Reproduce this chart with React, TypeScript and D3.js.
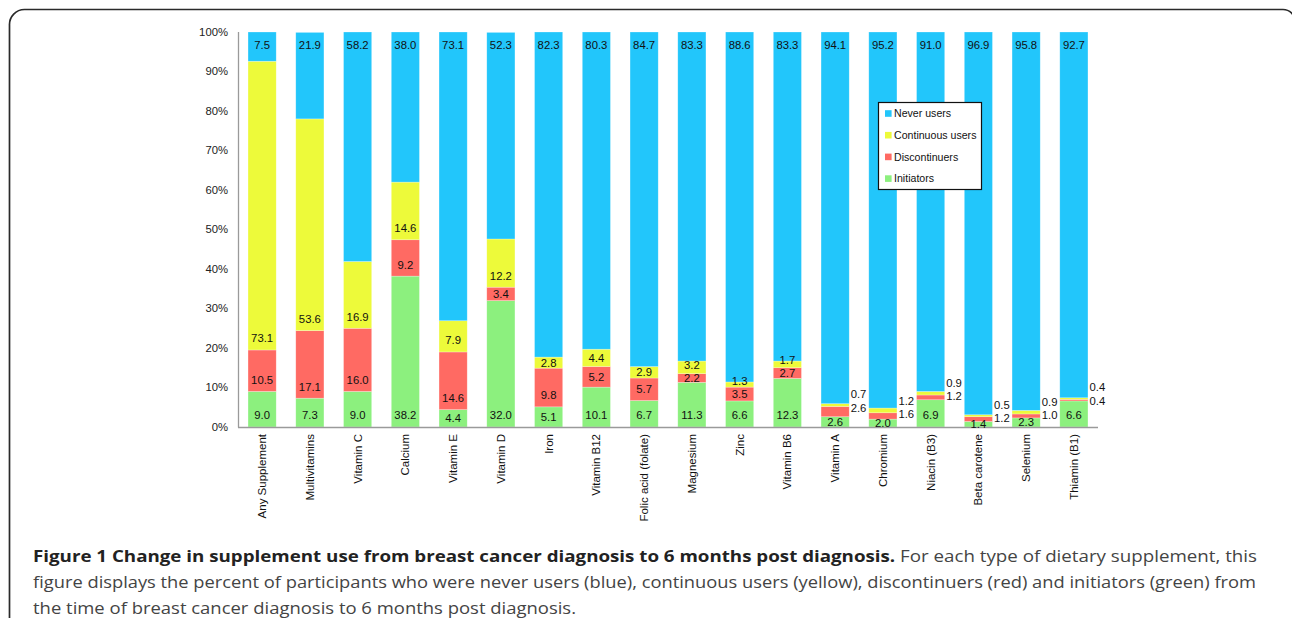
import React from "react";
import * as d3 from "d3";

const categories = [
  "Any Supplement", "Multivitamins", "Vitamin C", "Calcium", "Vitamin E", "Vitamin D",
  "Iron", "Vitamin B12", "Folic acid (folate)", "Magnesium", "Zinc", "Vitamin B6",
  "Vitamin A", "Chromium", "Niacin (B3)", "Beta carotene", "Selenium", "Thiamin (B1)",
];
const initiators = [9.0, 7.3, 9.0, 38.2, 4.4, 32.0, 5.1, 10.1, 6.7, 11.3, 6.6, 12.3, 2.6, 2.0, 6.9, 1.4, 2.3, 6.6];
const discontinuers = [10.5, 17.1, 16.0, 9.2, 14.6, 3.4, 9.8, 5.2, 5.7, 2.2, 3.5, 2.7, 2.6, 1.6, 1.2, 1.2, 1.0, 0.4];
const continuous = [73.1, 53.6, 16.9, 14.6, 7.9, 12.2, 2.8, 4.4, 2.9, 3.2, 1.3, 1.7, 0.7, 1.2, 0.9, 0.5, 0.9, 0.4];
const never = [7.5, 21.9, 58.2, 38.0, 73.1, 52.3, 82.3, 80.3, 84.7, 83.3, 88.6, 83.3, 94.1, 95.2, 91.0, 96.9, 95.8, 92.7];
const yTicks = [0, 10, 20, 30, 40, 50, 60, 70, 80, 90, 100];

const seriesKeys = ["initiators", "discontinuers", "continuous", "never"];
const seriesColors: Record<string, string> = {
  never: "#22C6FB",
  continuous: "#EDFA3A",
  discontinuers: "#FF6A63",
  initiators: "#8CF07E",
};
const legendItems = [
  { key: "never", label: "Never users" },
  { key: "continuous", label: "Continuous users" },
  { key: "discontinuers", label: "Discontinuers" },
  { key: "initiators", label: "Initiators" },
];

const FONT = "'Liberation Sans', Arial, Helvetica, sans-serif";
const CAP_FONT = "'Open Sans', 'Noto Sans', sans-serif";

export default function App() {
  const rows = categories.map((c, i) => ({
    category: c,
    initiators: initiators[i],
    discontinuers: discontinuers[i],
    continuous: continuous[i],
    never: never[i],
  }));

  const x = d3.scaleBand<string>().domain(categories).range([238, 1098]).paddingInner(0.41).paddingOuter(0.21);
  const y = d3.scaleLinear().domain([0, 100]).range([427, 32]);
  const stack = d3.stack<any>().keys(seriesKeys);
  const stacked = stack(rows as any);
  const bw = x.bandwidth();

  // labels
  const labels: { x: number; y: number; text: string; anchor: string }[] = [];
  categories.forEach((c, i) => {
    const bx = x(c)!;
    const cx = bx + bw / 2;
    const nonBlue = initiators[i] + discontinuers[i] + continuous[i];
    const outside = nonBlue < 10;
    let prevY = Infinity;
    let redOutY = 0;
    seriesKeys.forEach((k, si) => {
      const seg = stacked[si][i];
      const y0 = y(seg[0]);
      const y1 = y(Math.min(seg[1], 100));
      const h = y0 - y1;
      const val = (rows[i] as any)[k] as number;
      const text = val.toFixed(1);
      if (k === "never") {
        labels.push({ x: cx, y: y(100) + 13, text, anchor: "middle" });
        return;
      }
      if (outside && k === "discontinuers") {
        redOutY = y1 + 1.5;
        labels.push({ x: bx + bw + 1.5, y: redOutY, text, anchor: "start" });
        return;
      }
      if (outside && k === "continuous") {
        labels.push({ x: bx + bw + 1.5, y: redOutY - 13.5, text, anchor: "start" });
        return;
      }
      let ly = y0 - Math.min(11.5, h / 2);
      ly = Math.min(ly, prevY - 13);
      prevY = ly;
      labels.push({ x: cx, y: ly, text, anchor: "middle" });
    });
  });

  return (
    <div style={{ position: "absolute", left: 0, top: 0 }}>
      <svg width={1292} height={618} style={{ display: "block", background: "#fff" }}>
        {/* frame */}
        <path
          d="M 9.5 620 L 9.5 25 A 15 15 0 0 1 24.5 9.5 L 1283 9.5 A 12 12 0 0 1 1295 21.5 L 1295 620"
          fill="none"
          stroke="#2a2a2a"
          strokeWidth={1.7}
        />

        {/* y tick labels */}
        {yTicks.map((t) => (
          <text key={t} x={228} y={y(t)} dy="0.35em" textAnchor="end" fontFamily={FONT} fontSize={11.3} fill="#222">
            {t}%
          </text>
        ))}

        {/* bars */}
        {stacked.map((s, si) => (
          <g key={seriesKeys[si]} fill={seriesColors[seriesKeys[si]]}>
            {s.map((d, i) => {
              const top = y(Math.min(d[1], 100));
              const bot = y(d[0]);
              return (
                <rect
                  key={i}
                  x={x(categories[i])!}
                  y={top}
                  width={bw}
                  height={Math.max(0, bot - top)}
                  stroke="rgba(255,255,255,0.45)"
                  strokeWidth={0.6}
                />
              );
            })}
          </g>
        ))}

        {/* axes */}
        <line x1={238.5} y1={32} x2={238.5} y2={427.5} stroke="#9a9a9a" strokeWidth={1.3} />
        <line x1={238} y1={427.5} x2={1098} y2={427.5} stroke="#9a9a9a" strokeWidth={1.3} />

        {/* value labels */}
        {labels.map((l, i) => (
          <text key={i} x={l.x} y={l.y} dy="0.35em" textAnchor={l.anchor as any} fontFamily={FONT} fontSize={11.3} fill="#111">
            {l.text}
          </text>
        ))}

        {/* x labels */}
        {categories.map((c) => (
          <text
            key={c}
            transform={`translate(${x(c)! + bw / 2},434) rotate(-90)`}
            dy="0.35em"
            textAnchor="end"
            fontFamily={FONT}
            fontSize={11.5}
            fill="#111"
          >
            {c}
          </text>
        ))}

        {/* legend */}
        <rect x={878.5} y={102.5} width={103} height={87} fill="#fff" stroke="#111" strokeWidth={1.2} />
        {legendItems.map((it, i) => {
          const cy = 113.5 + i * 21.7;
          return (
            <g key={it.key}>
              <rect x={885} y={cy - 3.3} width={6.6} height={6.6} fill={seriesColors[it.key]} />
              <text x={894} y={cy} dy="0.35em" fontFamily={FONT} fontSize={10.6} fill="#111">
                {it.label}
              </text>
            </g>
          );
        })}

        {/* caption */}
        <text x={33} y={561.5} fontFamily={CAP_FONT} fontSize={15.5} fill="#444" textLength={1224} lengthAdjust="spacingAndGlyphs">
          <tspan fontWeight="bold" fill="#222">Figure 1 Change in supplement use from breast cancer diagnosis to 6 months post diagnosis.</tspan>
          <tspan> For each type of dietary supplement, this</tspan>
        </text>
        <text x={33} y={588} fontFamily={CAP_FONT} fontSize={15.5} fill="#444" textLength={1223} lengthAdjust="spacingAndGlyphs">
          figure displays the percent of participants who were never users (blue), continuous users (yellow), discontinuers (red) and initiators (green) from
        </text>
        <text x={33} y={613.5} fontFamily={CAP_FONT} fontSize={15.5} fill="#444" textLength={543} lengthAdjust="spacingAndGlyphs">
          the time of breast cancer diagnosis to 6 months post diagnosis.
        </text>
      </svg>
    </div>
  );
}
